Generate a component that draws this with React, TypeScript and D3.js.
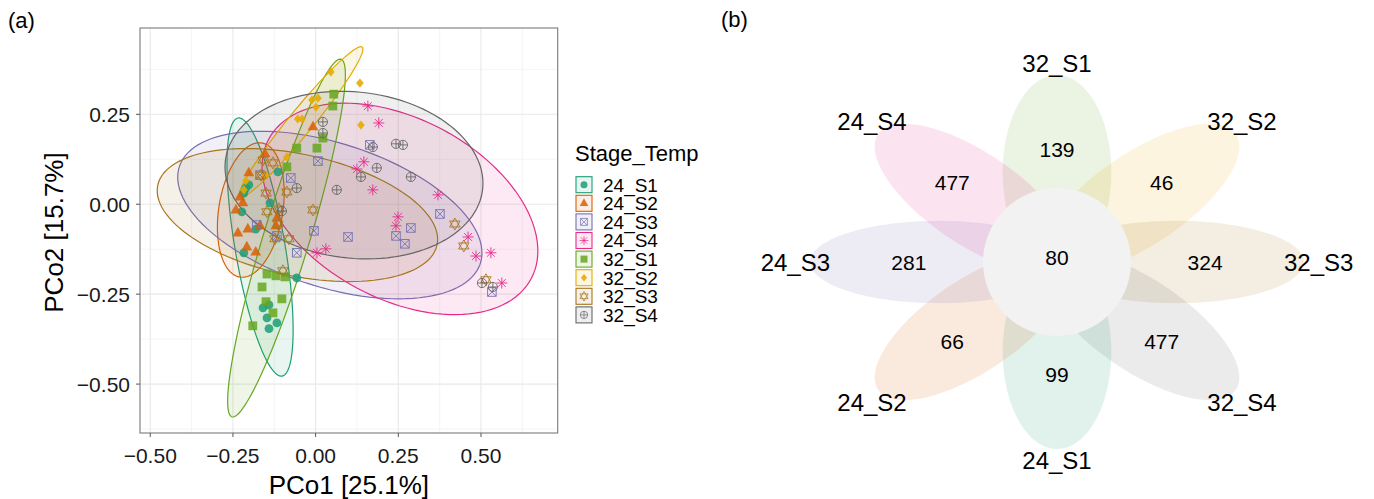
import React, { useRef, useEffect } from "react";
import * as d3 from "d3";

// ---- panel (a): PCoA ----
const groups = ["24_S1", "24_S2", "24_S3", "24_S4", "32_S1", "32_S2", "32_S3", "32_S4"];
const groupColors = ["#1B9E77", "#D95F02", "#7570B3", "#E7298A", "#66A61E", "#E6AB02", "#A6761D", "#666666"];
const groupShapes = ["circle", "triangle", "squareX", "asterisk", "square", "diamond", "star", "circlePlus"];

// [PCo1, PCo2]
const pts24S1 = [
  [-0.114, 0.090], [-0.202, 0.054], [-0.211, 0.045], [-0.217, 0.031], [-0.138, 0.004],
  [-0.223, -0.021], [-0.181, -0.069], [-0.217, -0.135], [-0.057, -0.205], [-0.141, -0.280],
  [-0.159, -0.288], [-0.147, -0.316], [-0.117, -0.330], [-0.141, -0.346],
];
const pts24S2 = [
  [-0.008, 0.215], [-0.153, 0.140], [-0.202, 0.087], [-0.229, 0.020], [-0.220, 0.004],
  [-0.241, -0.016], [-0.117, -0.038], [-0.235, -0.080], [-0.205, -0.069], [-0.168, -0.060],
  [-0.120, -0.060], [-0.208, -0.119], [-0.181, -0.133],
];
const pts24S3 = [
  [0.164, 0.165], [0.007, 0.120], [-0.075, 0.073], [-0.168, 0.081], [0.376, -0.027],
  [0.288, -0.066], [0.243, -0.088], [0.270, -0.110], [0.098, -0.091], [-0.005, -0.074],
  [-0.117, -0.088], [-0.178, -0.058], [-0.057, -0.135], [0.533, -0.244],
];
const pts24S4 = [
  [0.158, 0.273], [0.191, 0.226], [0.146, 0.118], [0.125, 0.098], [0.173, 0.040],
  [0.370, 0.026], [0.249, -0.035], [0.243, -0.060], [0.461, -0.091], [0.485, -0.144],
  [0.530, -0.135], [0.563, -0.219], [0.031, -0.124], [0.004, -0.135],
];
const pts32S1 = [
  [0.055, 0.306], [0.052, 0.273], [0.022, 0.184], [-0.057, 0.156], [0.004, 0.156],
  [-0.087, 0.104], [-0.147, -0.194], [-0.120, -0.199], [-0.093, -0.202], [-0.162, -0.230],
  [-0.150, -0.271], [-0.102, -0.263], [-0.129, -0.302], [-0.190, -0.338],
];
const pts32S2 = [
  [0.046, 0.368], [0.134, 0.337], [-0.011, 0.290], [0.007, 0.295], [0.001, 0.270],
  [-0.054, 0.237], [-0.041, 0.237], [0.137, 0.220], [-0.087, 0.131], [-0.153, 0.081],
  [-0.211, 0.065], [-0.217, 0.040],
];
const pts32S3 = [
  [-0.159, 0.123], [-0.129, 0.115], [-0.165, 0.081], [-0.087, 0.034], [-0.150, 0.031],
  [-0.147, -0.021], [-0.111, -0.013], [-0.008, -0.016], [-0.114, -0.055], [-0.123, -0.096],
  [-0.081, -0.096], [-0.099, -0.185], [0.421, -0.055], [0.448, -0.116], [0.515, -0.210],
];
const pts32S4 = [
  [0.022, 0.229], [0.022, 0.198], [0.173, 0.159], [0.243, 0.168], [0.264, 0.165],
  [0.185, 0.101], [0.137, 0.076], [0.288, 0.076], [0.064, 0.040], [-0.057, 0.045],
  [-0.102, -0.019], [0.503, -0.219], [0.536, -0.230],
];
const groupPoints = [pts24S1, pts24S2, pts24S3, pts24S4, pts32S1, pts32S2, pts32S3, pts32S4];

// confidence ellipses: [centre PCo1, centre PCo2, half-extent PCo1, half-extent PCo2, correlation]
const ellipses = [
  [-0.168, -0.119, 0.100, 0.359, -0.642],
  [-0.196, -0.016, 0.101, 0.187, 0.255],
  [0.043, -0.030, 0.460, 0.233, -0.452],
  [0.255, -0.013, 0.417, 0.294, -0.397],
  [-0.088, -0.094, 0.178, 0.4975, 0.912],
  [-0.044, 0.229, 0.187, 0.209, 0.968],
  [-0.055, -0.030, 0.424, 0.185, -0.366],
  [0.116, 0.081, 0.390, 0.233, -0.098],
];

const xTicks = [-0.5, -0.25, 0, 0.25, 0.5];
const yTicks = [-0.5, -0.25, 0, 0.25];

// ---- panel (b): flower plot ----
const vennSets = ["32_S1", "32_S2", "32_S3", "32_S4", "24_S1", "24_S2", "24_S3", "24_S4"];
const vennCounts = [139, 46, 324, 477, 99, 66, 281, 477];
const vennAngles = [90, 45, 0, -45, -90, -135, 180, 135];
const coreCount = 80;

const FONT = "'Liberation Sans', Arial, Helvetica, sans-serif";
const fmt = (v: number) => d3.format(".2f")(v).replace("-", "\u2212");

function drawShape(g: any, shape: string, color: string, px: number, py: number, k = 1) {
  const s = g.append("g").attr("transform", `translate(${px},${py}) scale(${k})`);
  const open = (d: string) =>
    s.append("path").attr("d", d).attr("fill", "none").attr("stroke", color).attr("stroke-width", 0.9);
  switch (shape) {
    case "circle":
      s.append("circle").attr("r", 4.4).attr("fill", color).attr("opacity", 0.85);
      break;
    case "triangle":
      s.append("path").attr("d", "M0,-6.2L5.4,3.4L-5.4,3.4Z").attr("fill", color).attr("opacity", 0.85);
      break;
    case "square":
      s.append("rect").attr("x", -4.4).attr("y", -4.4).attr("width", 8.8).attr("height", 8.8)
        .attr("fill", color).attr("opacity", 0.85);
      break;
    case "diamond":
      s.append("path").attr("d", "M0,-4.6L3.8,0L0,4.6L-3.8,0Z").attr("fill", color).attr("opacity", 0.9);
      break;
    case "squareX":
      open("M-4.3,-4.3H4.3V4.3H-4.3ZM-4.3,-4.3L4.3,4.3M4.3,-4.3L-4.3,4.3");
      break;
    case "asterisk":
      open("M-5.5,0H5.5M0,-5.5V5.5M-3.9,-3.9L3.9,3.9M3.9,-3.9L-3.9,3.9");
      break;
    case "star":
      open("M0,-6L5.2,3L-5.2,3ZM0,6L5.2,-3L-5.2,-3Z");
      break;
    case "circlePlus":
      open("M-4.6,0H4.6M0,-4.6V4.6");
      s.append("circle").attr("r", 4.6).attr("fill", "none").attr("stroke", color).attr("stroke-width", 0.9);
      break;
  }
}

export default function App() {
  const svgRef = useRef<SVGSVGElement>(null);

  useEffect(() => {
    const svg = d3.select(svgRef.current);
    svg.selectAll("*").remove();
    svg.attr("font-family", FONT);

    // ---------- (a) ----------
    const panel = { left: 140, right: 557.7, top: 28, bottom: 433 };
    const x = d3.scaleLinear().domain([-0.531, 0.732]).range([panel.left, panel.right]);
    const y = d3.scaleLinear().domain([-0.636, 0.49]).range([panel.bottom, panel.top]);

    svg.append("text").attr("x", 8).attr("y", 28).attr("font-size", 22).text("(a)");

    const grid = svg.append("g");
    const xMinor = xTicks.map(v => v - 0.125).concat([xTicks[xTicks.length - 1] + 0.125])
      .filter(v => v > x.domain()[0] && v < x.domain()[1]);
    const yMinor = yTicks.map(v => v - 0.125).concat([yTicks[yTicks.length - 1] + 0.125])
      .filter(v => v > y.domain()[0] && v < y.domain()[1]);
    xMinor.forEach(v => grid.append("line").attr("x1", x(v)).attr("x2", x(v))
      .attr("y1", panel.top).attr("y2", panel.bottom).attr("stroke", "#f2f2f2").attr("stroke-width", 0.8));
    yMinor.forEach(v => grid.append("line").attr("y1", y(v)).attr("y2", y(v))
      .attr("x1", panel.left).attr("x2", panel.right).attr("stroke", "#f2f2f2").attr("stroke-width", 0.8));
    xTicks.forEach(v => grid.append("line").attr("x1", x(v)).attr("x2", x(v))
      .attr("y1", panel.top).attr("y2", panel.bottom).attr("stroke", "#e8e8e8").attr("stroke-width", 1.1));
    yTicks.forEach(v => grid.append("line").attr("y1", y(v)).attr("y2", y(v))
      .attr("x1", panel.left).attr("x2", panel.right).attr("stroke", "#e8e8e8").attr("stroke-width", 1.1));

    // ellipses
    const tt = d3.range(0, 120).map(i => (i / 120) * 2 * Math.PI);
    const eg = svg.append("g");
    ellipses.forEach((e, i) => {
      const [cx, cy, wx, wy, r] = e;
      const line = d3.line<number>()
        .x(t => x(cx + wx * Math.cos(t)))
        .y(t => y(cy + wy * (r * Math.cos(t) + Math.sqrt(1 - r * r) * Math.sin(t))))
        .curve(d3.curveLinearClosed);
      eg.append("path").attr("d", line(tt))
        .attr("fill", groupColors[i]).attr("fill-opacity", 0.1)
        .attr("stroke", groupColors[i]).attr("stroke-width", 1.2);
    });

    // points
    const pg = svg.append("g");
    groupPoints.forEach((pts, i) => {
      pts.forEach(p => drawShape(pg, groupShapes[i], groupColors[i], x(p[0]), y(p[1])));
    });

    // border
    svg.append("rect").attr("x", panel.left).attr("y", panel.top)
      .attr("width", panel.right - panel.left).attr("height", panel.bottom - panel.top)
      .attr("fill", "none").attr("stroke", "#7a7a7a").attr("stroke-width", 1.1);

    // axes
    const ax = svg.append("g").attr("font-size", 21).attr("fill", "#1a1a1a");
    xTicks.forEach(v => {
      ax.append("line").attr("x1", x(v)).attr("x2", x(v)).attr("y1", panel.bottom).attr("y2", panel.bottom + 4)
        .attr("stroke", "#555");
      ax.append("text").attr("x", x(v)).attr("y", 462.5).attr("text-anchor", "middle").text(fmt(v));
    });
    yTicks.forEach(v => {
      ax.append("line").attr("x1", panel.left - 4).attr("x2", panel.left).attr("y1", y(v)).attr("y2", y(v))
        .attr("stroke", "#555");
      ax.append("text").attr("x", 130).attr("y", y(v) + 7.6).attr("text-anchor", "end").text(fmt(v));
    });
    svg.append("text").attr("x", (panel.left + panel.right) / 2).attr("y", 494)
      .attr("text-anchor", "middle").attr("font-size", 26).text("PCo1 [25.1%]");
    svg.append("text").attr("transform", `translate(63,${(panel.top + panel.bottom) / 2 + 2}) rotate(-90)`)
      .attr("text-anchor", "middle").attr("font-size", 26).text("PCo2 [15.7%]");

    // legend
    const lg = svg.append("g");
    lg.append("text").attr("x", 575).attr("y", 161).attr("font-size", 22).text("Stage_Temp");
    groups.forEach((gname, i) => {
      const cy = 184.7 + 18.6 * i;
      lg.append("rect").attr("x", 576).attr("y", cy - 8).attr("width", 16).attr("height", 16)
        .attr("fill", groupColors[i]).attr("fill-opacity", 0.1)
        .attr("stroke", groupColors[i]).attr("stroke-width", 1.1);
      drawShape(lg, groupShapes[i], groupColors[i], 584, cy, 0.8);
      lg.append("text").attr("x", 603).attr("y", cy + 6.8).attr("font-size", 19).text(gname);
    });

    // ---------- (b) ----------
    svg.append("text").attr("x", 721).attr("y", 27).attr("font-size", 22).text("(b)");
    const fc = { x: 1057, y: 262 };
    const R = 187;
    const stretch = 1.32;
    const vx = d3.scaleLinear().domain([-1, 1]).range([fc.x - R * stretch, fc.x + R * stretch]);
    const vy = d3.scaleLinear().domain([-1, 1]).range([fc.y + R, fc.y - R]);
    const petalCentre = 0.48, petalA = 0.52, petalB = 0.22;
    const colorOf = (name: string) => groupColors[groups.indexOf(name)];

    const vg = svg.append("g");
    vennSets.forEach((name, i) => {
      const a = (vennAngles[i] * Math.PI) / 180;
      const line = d3.line<number>()
        .x(t => {
          const u = petalCentre + petalA * Math.cos(t), w = petalB * Math.sin(t);
          return vx(u * Math.cos(a) - w * Math.sin(a));
        })
        .y(t => {
          const u = petalCentre + petalA * Math.cos(t), w = petalB * Math.sin(t);
          return vy(u * Math.sin(a) + w * Math.cos(a));
        })
        .curve(d3.curveLinearClosed);
      vg.append("path").attr("d", line(tt)).attr("fill", colorOf(name)).attr("fill-opacity", 0.13);
    });
    vg.append("circle").attr("cx", fc.x).attr("cy", fc.y).attr("r", 74).attr("fill", "#f2f2f2");

    vennSets.forEach((name, i) => {
      const a = (vennAngles[i] * Math.PI) / 180;
      vg.append("text").attr("x", vx(0.6 * Math.cos(a))).attr("y", vy(0.6 * Math.sin(a)))
        .attr("dy", "0.36em").attr("text-anchor", "middle").attr("font-size", 21).text(vennCounts[i]);
      vg.append("text").attr("x", vx(1.06 * Math.cos(a))).attr("y", vy(1.06 * Math.sin(a)))
        .attr("dy", "0.36em").attr("text-anchor", "middle").attr("font-size", 24).text(name);
    });
    vg.append("text").attr("x", fc.x).attr("y", fc.y - 5).attr("dy", "0.36em")
      .attr("text-anchor", "middle").attr("font-size", 21).text(coreCount);
  }, []);

  return (
    <svg ref={svgRef} width={1374} height={499}
      style={{ position: "absolute", left: 0, top: 0, background: "#fff" }} />
  );
}
